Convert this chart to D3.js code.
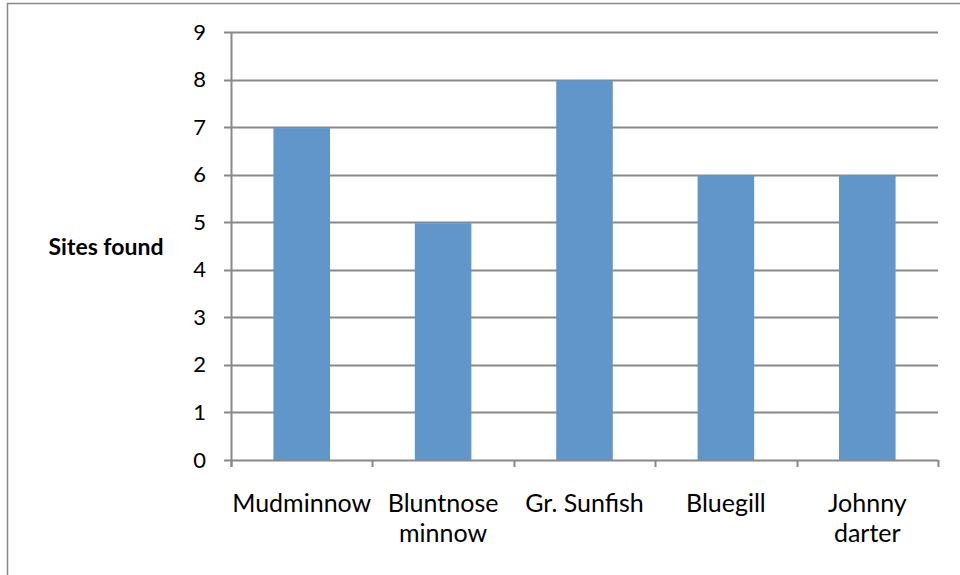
<!DOCTYPE html>
<html><head><meta charset="utf-8">
<script src="https://cdn.jsdelivr.net/npm/d3@7"></script>
<style>body{margin:0;background:#fff}svg{display:block}</style>
</head><body>
<svg id="c" width="960" height="575"></svg>
<script>
const categories = ["Mudminnow", "Bluntnose minnow", "Gr. Sunfish", "Bluegill", "Johnny darter"];
const categoryLines = [["Mudminnow"], ["Bluntnose", "minnow"], ["Gr. Sunfish"], ["Bluegill"], ["Johnny", "darter"]];
const sitesFound = [7, 5, 8, 6, 6];
const yTicks = [0, 1, 2, 3, 4, 5, 6, 7, 8, 9];
const yTitle = "Sites found";

(function () {
const svg = d3.select("#c");
const font = "Lato, 'Open Sans', sans-serif";
const pL = 231, pR = 938, pT = 32, pB = 460;

// outer frame
svg.append("path").attr("d", "M7.5,580 V3.5 H965")
  .attr("fill", "none").attr("stroke", "#888").attr("stroke-width", 1.5);

const x = d3.scaleBand().domain(categories).range([pL, pR]).paddingInner(0.6).paddingOuter(0.3);
const y = d3.scaleLinear().domain([0, 9]).range([pB, pT]);

// gridlines
svg.append("g").selectAll("line").data(yTicks).join("line")
  .attr("x1", pL - 7).attr("x2", pR)
  .attr("y1", d => Math.round(y(d)) + 0.5).attr("y2", d => Math.round(y(d)) + 0.5)
  .attr("stroke", "#888").attr("stroke-width", 2);

// bars
svg.append("g").selectAll("rect").data(sitesFound).join("rect")
  .attr("x", (d, i) => x(categories[i]))
  .attr("width", x.bandwidth())
  .attr("y", d => y(d) + 1)
  .attr("height", d => pB - y(d) - 1)
  .attr("fill", "#6096c9");

// y axis line
svg.append("line").attr("x1", pL + 0.5).attr("x2", pL + 0.5).attr("y1", pT).attr("y2", pB + 7)
  .attr("stroke", "#888").attr("stroke-width", 2);

// x category ticks
const step = (pR - pL) / categories.length;
const bounds = d3.range(categories.length + 1).map(i => pL + i * step);
svg.append("g").selectAll("line").data(bounds).join("line")
  .attr("x1", d => Math.round(d) + 0.5).attr("x2", d => Math.round(d) + 0.5)
  .attr("y1", pB).attr("y2", pB + 7)
  .attr("stroke", "#888").attr("stroke-width", 2);

// y tick labels
svg.append("g").selectAll("text").data(yTicks).join("text")
  .attr("x", 206).attr("y", d => y(d) + 7.5)
  .attr("text-anchor", "end").attr("font-family", font).attr("font-size", 22).attr("fill", "#000")
  .text(d => d);

// category labels
categoryLines.forEach((lines, i) => {
  const cx = x(categories[i]) + x.bandwidth() / 2;
  lines.forEach((ln, j) => {
    svg.append("text").attr("x", cx).attr("y", 511.5 + j * 30)
      .attr("text-anchor", "middle").attr("font-family", font).attr("font-size", 25).attr("fill", "#000")
      .text(ln);
  });
});

// y title
svg.append("text").attr("x", 106).attr("y", 255).attr("text-anchor", "middle")
  .attr("font-family", font).attr("font-weight", "bold").attr("font-size", 23).attr("fill", "#000")
  .text(yTitle);
})();
</script>
</body></html>
